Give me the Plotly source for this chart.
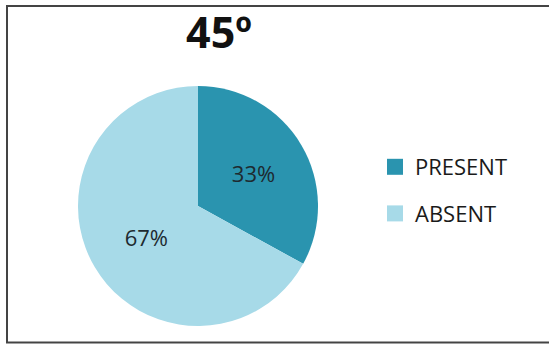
import plotly.graph_objects as go

# Share of cases at the 45º angle
categories = ["PRESENT", "ABSENT"]
values = [33, 67]
slice_colors = ["#2A94AF", "#A7DAE8"]
title_text = "45º"

W, H = 549, 344
FONT = "Open Sans, sans-serif"

fig = go.Figure()
fig.add_trace(go.Pie(
    labels=categories,
    values=values,
    sort=False,
    direction="clockwise",
    rotation=0,
    marker=dict(colors=slice_colors, line=dict(width=0)),
    texttemplate="%{value}%",
    textposition="inside",
    insidetextorientation="horizontal",
    textfont=dict(family=FONT, size=22, color="#1E2A30"),
    hoverinfo="label+percent",
    showlegend=False,
    domain=dict(x=[78 / W, 318 / W], y=[(H - 326) / H, (H - 86) / H]),
))

# Legend entries for the two slices, one group each so they can be spaced apart
for name, color in zip(categories, slice_colors):
    fig.add_trace(go.Scatter(
        x=[None], y=[None],
        mode="markers",
        name=name,
        legendgroup=name,
        marker=dict(symbol="square", size=17, color=color),
        showlegend=True,
    ))

fig.update_layout(
    width=W,
    height=H,
    margin=dict(l=0, r=0, t=0, b=0),
    paper_bgcolor="white",
    plot_bgcolor="white",
    xaxis=dict(visible=False),
    yaxis=dict(visible=False),
    title=dict(
        text="<b>" + title_text + "</b>",
        x=219 / W,
        xanchor="center",
        y=1 - 33 / H,
        yanchor="middle",
        font=dict(family=FONT, size=43, color="#111111"),
    ),
    legend=dict(
        x=375 / W,
        y=1 - 146 / H,
        xanchor="left",
        yanchor="top",
        font=dict(family=FONT, size=22, color="#1A1A1A", weight=500),
        tracegroupgap=15,
        bgcolor="rgba(0,0,0,0)",
    ),
    shapes=[
        dict(
            type="rect",
            xref="paper", yref="paper",
            x0=7 / W, x1=1.02,
            y0=1 - 342.5 / H, y1=1 - 6 / H,
            line=dict(color="#444444", width=2),
            fillcolor="rgba(0,0,0,0)",
            layer="above",
        )
    ],
)

fig.write_html("out.html")
